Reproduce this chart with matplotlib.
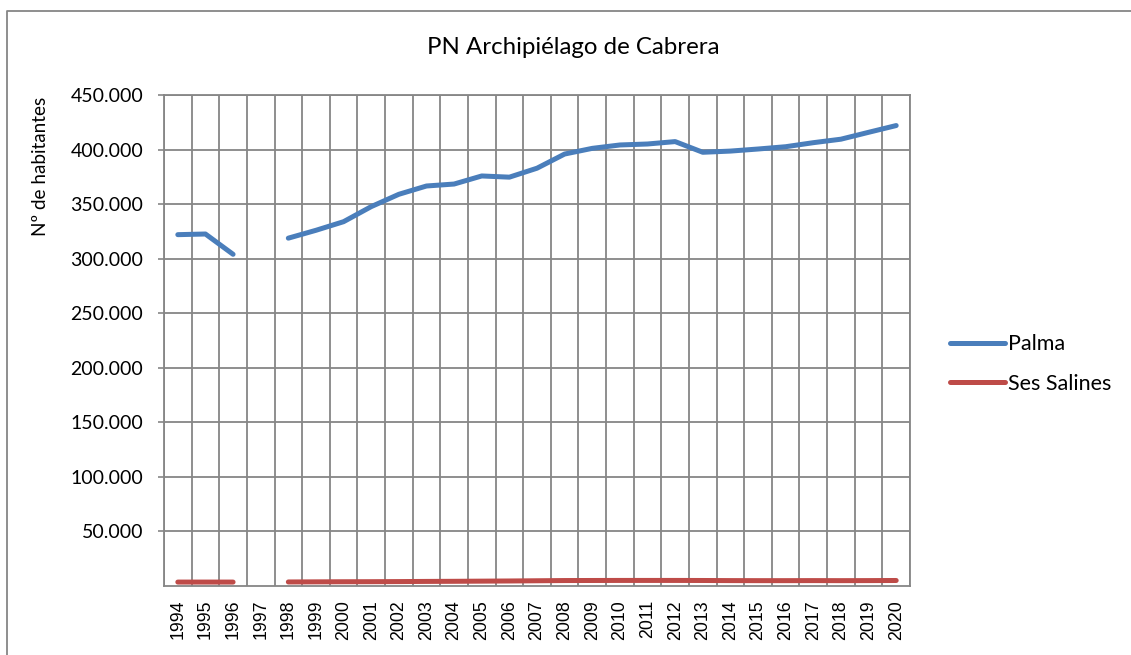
import matplotlib
matplotlib.use("Agg")
import matplotlib.pyplot as plt
from matplotlib.lines import Line2D
import numpy as np

years = [str(y) for y in range(1994, 2021)]
palma = [322000, 322600, 304000, np.nan, 318800, 326000, 333900, 347700, 359000,
         366600, 368400, 375800, 374700, 382900, 395900, 401100, 404200, 405100,
         407300, 397500, 398600, 400500, 402600, 406300, 409500, 415800, 422000]
ses_salines = [3600, 3600, 3600, np.nan, 3700, 3800, 3900, 3950, 4050, 4200, 4300,
               4450, 4600, 4800, 5000, 5050, 5100, 5100, 5100, 5050, 4950, 4900,
               4900, 4950, 4900, 4950, 5050]
yticks = [50000, 100000, 150000, 200000, 250000, 300000, 350000, 400000, 450000]
ytick_labels = ["50.000", "100.000", "150.000", "200.000", "250.000",
                "300.000", "350.000", "400.000", "450.000"]

W, H = 1131, 655
fig = plt.figure(figsize=(W / 100, H / 100), dpi=100)
ax = fig.add_axes([164 / W, 1 - 586 / H, (910 - 164) / W, (586 - 95) / H])

grid_c = "#868686"
x = np.arange(len(years))
ax.plot(x, palma, color="#4A7EBB", lw=3.6, solid_capstyle="round", solid_joinstyle="round",
        label="Palma", zorder=3)
ax.plot(x, ses_salines, color="#BE4B48", lw=3.6, solid_capstyle="round", solid_joinstyle="round",
        label="Ses Salines", zorder=3)

ax.set_xlim(-0.5, len(years) - 0.5)
ax.set_ylim(0, 450000)
ax.set_xticks(x)
ax.set_xticklabels(years, rotation=90, family="Liberation Sans", fontsize=12.8)
ax.set_xticks(np.arange(-0.5, len(years), 1), minor=True)
ax.tick_params(axis="x", which="both", length=0, pad=10)
ax.grid(True, axis="x", which="minor", color=grid_c, lw=1.3)
ax.set_yticks(yticks)
ax.set_yticklabels(ytick_labels, family="Lato", fontsize=14)
ax.tick_params(axis="y", length=4, color=grid_c, width=1.2, pad=11)
ax.grid(True, axis="y", which="major", color=grid_c, lw=1.3)
for s in ax.spines.values():
    s.set_color(grid_c)
    s.set_linewidth(1.3)
ax.set_axisbelow(True)

fig.text(573 / W, 1 - 47 / H, "PN Archipiélago de Cabrera", ha="center", va="center",
         family="Lato", fontsize=17.3)
fig.text(40 / W, 1 - 166 / H, "Nº de habitantes", ha="center", va="center", rotation=90,
         family="Lato", fontsize=13.6)

handles = [Line2D([], [], color="#4A7EBB", lw=3.6, solid_capstyle="round"),
           Line2D([], [], color="#BE4B48", lw=3.6, solid_capstyle="round")]
leg = fig.legend(handles, ["Palma", "Ses Salines"], loc="center left",
                 bbox_to_anchor=(950 / W, 1 - 364 / H), frameon=False, borderpad=0,
                 borderaxespad=0,
                 prop={"family": "Lato", "size": 15.5}, handlelength=2.55, handletextpad=0.14,
                 labelspacing=0.9)

fig.add_artist(Line2D([7 / W, 7 / W, 1.0], [0.0, 1 - 11 / H, 1 - 11 / H],
                      transform=fig.transFigure, color=grid_c, lw=1.3))

fig.savefig("out.png", dpi=100)
